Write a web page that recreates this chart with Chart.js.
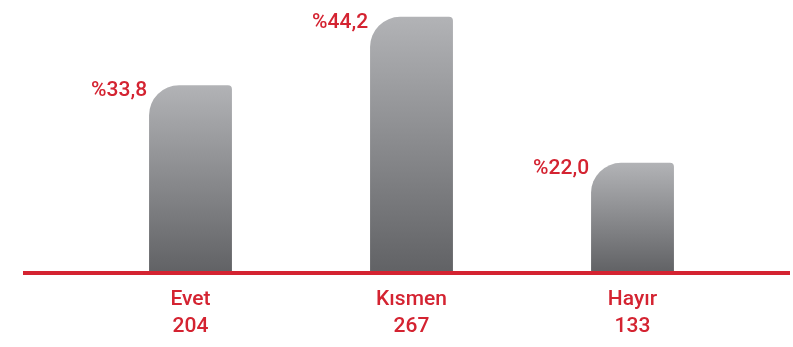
<!DOCTYPE html>
<html>
<head>
<meta charset="utf-8">
<script src="https://cdn.jsdelivr.net/npm/chart.js@4.4.1/dist/chart.umd.min.js"></script>
<style>
  html, body { margin: 0; padding: 0; background: #fff; }
  #wrap { width: 793px; height: 347px; }
</style>
</head>
<body>
<div id="wrap"><canvas id="myChart"></canvas></div>
<script>
// chart data
const categories = ['Evet', 'Kısmen', 'Hayır'];
const counts = [204, 267, 133];
const percents = [33.8, 44.2, 22.0];

const red = '#d42331';
const fontName = '"Roboto", sans-serif';

let labels = categories.map((c, i) => [c, String(counts[i])]);

// gradient per bar, light on top, dark at the baseline
function barGradient(context) {
  let chart = context.chart;
  let yScale = chart.scales.y;
  if (!chart.chartArea || !yScale || context.parsed == undefined) return '#8a8b8e';
  let top = yScale.getPixelForValue(context.parsed.y);
  let bottom = yScale.getPixelForValue(yScale.min);
  if (!isFinite(top) || !isFinite(bottom)) return '#8a8b8e';
  let g = chart.ctx.createLinearGradient(0, top, 0, bottom);
  g.addColorStop(0, '#b2b3b6');
  g.addColorStop(1, '#616265');
  return g;
}

// red baseline across the whole picture
const baseLine = {
  id: 'baseLine',
  afterDatasetsDraw(chart) {
    let ctx = chart.ctx;
    let area = chart.chartArea;
    ctx.save();
    ctx.fillStyle = red;
    ctx.fillRect(area.left - 57, area.bottom - 1, (area.right + 47) - (area.left - 57), 4);
    ctx.restore();
  }
};

// "%33,8" labels sitting left of each bar top
const pctLabels = {
  id: 'pctLabels',
  afterDatasetsDraw(chart) {
    let ctx = chart.ctx;
    let meta = chart.getDatasetMeta(0);
    ctx.save();
    ctx.fillStyle = red;
    ctx.font = '500 21px ' + fontName;
    ctx.textAlign = 'right';
    ctx.textBaseline = 'alphabetic';
    meta.data.forEach((bar, i) => {
      let txt = '%' + percents[i].toFixed(1).replace('.', ',');
      ctx.fillText(txt, bar.x - bar.width / 2 - 2, bar.y + 11);
    });
    ctx.restore();
  }
};

const ctx = document.getElementById('myChart');

let chart = new Chart(ctx, {
  type: 'bar',
  data: {
    labels: labels,
    datasets: [{
      data: percents,
      backgroundColor: barGradient,
      borderWidth: 0,
      borderSkipped: false,
      borderRadius: { topLeft: 30, topRight: 4, bottomLeft: 0, bottomRight: 0 },
      categoryPercentage: 1,
      barPercentage: 0.375
    }]
  },
  options: {
    responsive: true,
    maintainAspectRatio: false,
    animation: false,
    layout: { padding: { left: 80, right: 50, top: 7, bottom: 0 } },
    plugins: {
      legend: { display: false },
      tooltip: { enabled: false }
    },
    scales: {
      x: {
        grid: { display: false },
        border: { display: false },
        afterFit: function(scale) { scale.height = 75; },
        ticks: {
          color: red,
          padding: 7,
          font: { family: fontName, size: 21, weight: '500', lineHeight: 1.26 }
        }
      },
      y: {
        display: false,
        min: 5.4,
        max: 45.7
      }
    }
  },
  plugins: [baseLine, pctLabels]
});
</script>
</body>
</html>
